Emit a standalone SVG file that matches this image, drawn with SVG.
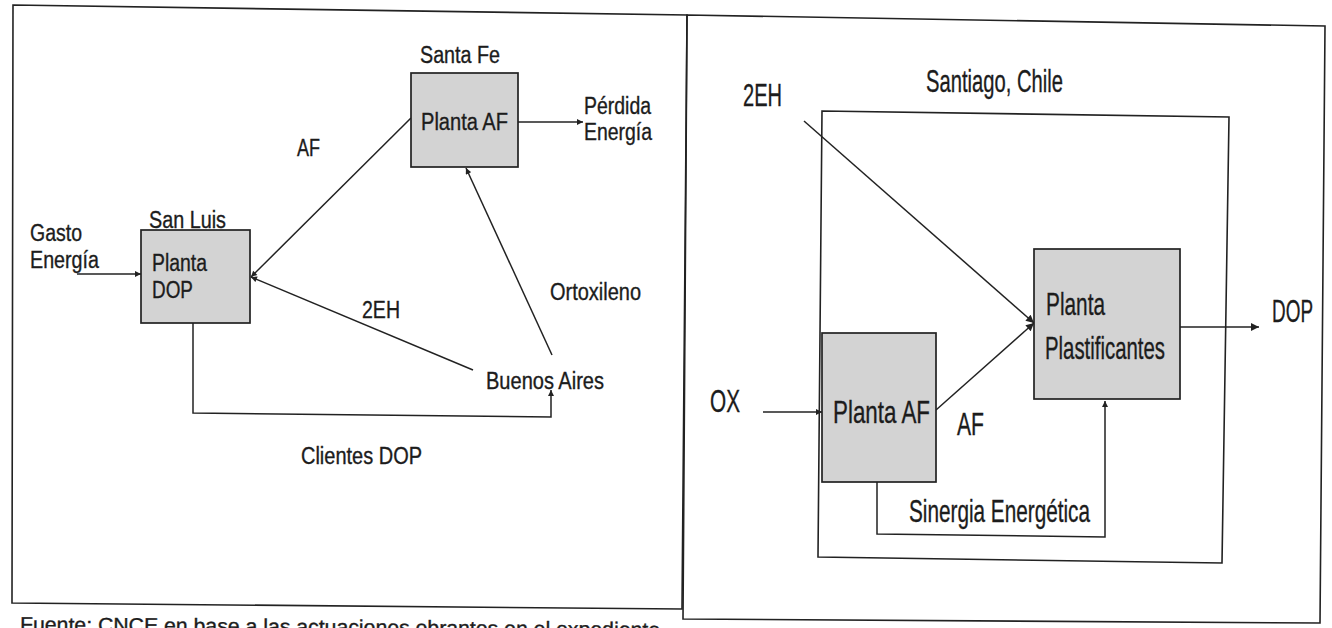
<svg xmlns="http://www.w3.org/2000/svg" width="1332" height="628" viewBox="0 0 1332 628">
<style>
.t{font-family:"Liberation Sans",Arial,sans-serif;fill:#1c1c1c;stroke:#1c1c1c;stroke-width:0.35}
.s{font-size:23.5px}
.b{font-size:32px}
.f{font-size:20px}
.box{fill:#d3d3d3;stroke:#222;stroke-width:1.7}
.frame{fill:none;stroke:#222;stroke-width:1.6}
.ln{fill:none;stroke:#222;stroke-width:1.5}
</style>
<defs>
<marker id="aS" markerUnits="userSpaceOnUse" viewBox="0 0 10 10" refX="10" refY="5" markerWidth="7" markerHeight="6" orient="auto"><path d="M0,0 L10,5 L0,10 z" fill="#222"/></marker>
<marker id="aL" markerUnits="userSpaceOnUse" viewBox="0 0 10 10" refX="10" refY="5" markerWidth="9" markerHeight="8" orient="auto"><path d="M0,0 L10,5 L0,10 z" fill="#222"/></marker>
</defs>
<rect width="1332" height="628" fill="#fff"/>
<g id="frames">
<path class="frame" d="M13,5 L687,15 L682,609 L12,603 Z"/>
<path class="frame" d="M687,15 L1325,26 L1320,623 L683,619 Z"/>
<path class="frame" d="M822,111 L1229,117 L1222,563 L818,557 Z"/>
</g>
<g id="connectors">
<line class="ln" x1="77" y1="274" x2="141" y2="274" marker-end="url(#aS)"/>
<line class="ln" x1="411" y1="118" x2="251" y2="277" marker-end="url(#aS)"/>
<line class="ln" x1="473" y1="370" x2="251" y2="277" marker-end="url(#aS)"/>
<line class="ln" x1="552" y1="355" x2="466" y2="168" marker-end="url(#aS)"/>
<line class="ln" x1="518" y1="122" x2="583" y2="122" marker-end="url(#aS)"/>
<polyline class="ln" points="193,323 193,413 551,417 551,390" marker-end="url(#aS)"/>
<line class="ln" x1="804" y1="121" x2="1034" y2="323" marker-end="url(#aL)"/>
<line class="ln" x1="763" y1="412" x2="822" y2="412" marker-end="url(#aS)"/>
<line class="ln" x1="936" y1="410" x2="1034" y2="323" marker-end="url(#aL)"/>
<line class="ln" x1="1180" y1="327" x2="1259" y2="327" marker-end="url(#aL)"/>
<polyline class="ln" points="877,482 877,534 1105,537 1105,401" marker-end="url(#aS)"/>
</g>
<g id="santa-fe">
<rect class="box" x="411" y="73" width="107" height="94"/>
<text class="t s" x="420" y="63" textLength="80" lengthAdjust="spacingAndGlyphs">Santa Fe</text>
<text class="t s" x="421" y="130" textLength="87" lengthAdjust="spacingAndGlyphs">Planta AF</text>
</g>
<g id="perdida">
<text class="t s" x="584" y="114" textLength="67" lengthAdjust="spacingAndGlyphs">Pérdida</text>
<text class="t s" x="584" y="140" textLength="68" lengthAdjust="spacingAndGlyphs">Energía</text>
</g>
<g id="san-luis">
<rect class="box" x="141" y="230" width="109" height="93"/>
<text class="t s" x="149" y="228" textLength="77" lengthAdjust="spacingAndGlyphs">San Luis</text>
<text class="t s" x="152" y="271" textLength="55" lengthAdjust="spacingAndGlyphs">Planta</text>
<text class="t s" x="152" y="298" textLength="41" lengthAdjust="spacingAndGlyphs">DOP</text>
</g>
<g id="gasto">
<text class="t s" x="30" y="241" textLength="52" lengthAdjust="spacingAndGlyphs">Gasto</text>
<text class="t s" x="30" y="268" textLength="69" lengthAdjust="spacingAndGlyphs">Energía</text>
</g>
<g id="buenos-aires">
<text class="t s" x="486" y="389" textLength="118" lengthAdjust="spacingAndGlyphs">Buenos Aires</text>
</g>
<g id="left-labels">
<text class="t s" x="297" y="156" textLength="23" lengthAdjust="spacingAndGlyphs">AF</text>
<text class="t s" x="362" y="318" textLength="38" lengthAdjust="spacingAndGlyphs">2EH</text>
<text class="t s" x="550" y="300" textLength="91" lengthAdjust="spacingAndGlyphs">Ortoxileno</text>
<text class="t s" x="301" y="464" textLength="121" lengthAdjust="spacingAndGlyphs">Clientes DOP</text>
</g>
<g id="santiago">
<text class="t b" x="926" y="92" textLength="137" lengthAdjust="spacingAndGlyphs">Santiago, Chile</text>
</g>
<g id="planta-af-chile">
<rect class="box" x="822" y="333" width="114" height="149"/>
<text class="t b" x="833" y="423" textLength="97" lengthAdjust="spacingAndGlyphs">Planta AF</text>
</g>
<g id="planta-plastificantes">
<rect class="box" x="1034" y="249" width="146" height="150"/>
<text class="t b" x="1046" y="315" textLength="59" lengthAdjust="spacingAndGlyphs">Planta</text>
<text class="t b" x="1045" y="359" textLength="120" lengthAdjust="spacingAndGlyphs">Plastificantes</text>
</g>
<g id="right-labels">
<text class="t b" x="743" y="106" textLength="39" lengthAdjust="spacingAndGlyphs">2EH</text>
<text class="t b" x="710" y="412" textLength="30" lengthAdjust="spacingAndGlyphs">OX</text>
<text class="t b" x="957" y="435" textLength="27" lengthAdjust="spacingAndGlyphs">AF</text>
<text class="t b" x="1272" y="322" textLength="41" lengthAdjust="spacingAndGlyphs">DOP</text>
<text class="t b" x="909" y="522" textLength="181" lengthAdjust="spacingAndGlyphs">Sinergia Energética</text>
</g>
<g id="source">
<text class="t f" x="20" y="631" textLength="640" lengthAdjust="spacingAndGlyphs" transform="rotate(0.5 20 631)">Fuente: CNCE en base a las actuaciones obrantes en el expediente</text>
</g>
</svg>
